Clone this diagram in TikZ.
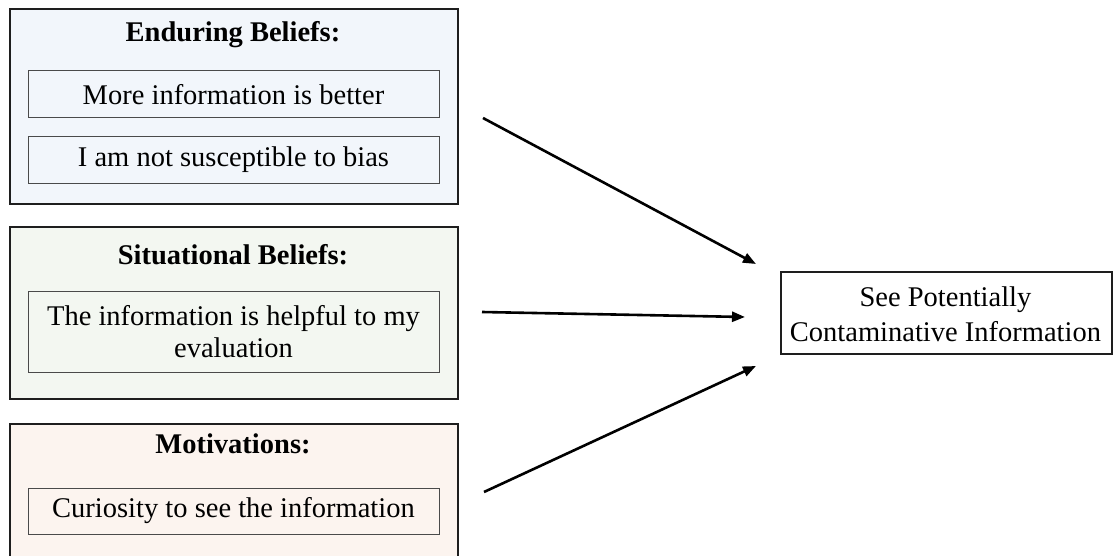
\documentclass[tikz,border=0pt]{standalone}
\usepackage{fontspec}
\setmainfont{Liberation Serif}
\usetikzlibrary{arrows.meta}
\definecolor{fillA}{HTML}{F2F6FB}
\definecolor{fillB}{HTML}{F3F7F1}
\definecolor{fillC}{HTML}{FCF4EF}
\definecolor{edgeA}{HTML}{1E1E1E}
\definecolor{edgeB}{HTML}{4A4A4A}
\tikzset{
  outerbox/.style={draw=edgeA, line width=1.8pt, inner sep=0pt, anchor=north west},
  innerbox/.style={draw=edgeB, line width=1pt, inner sep=0pt, align=center,
    font=\fontsize{28.5}{32}\selectfont},
  titletext/.style={inner sep=0pt, font=\fontsize{28.5}{32}\selectfont\bfseries},
  plaintext/.style={inner sep=0pt, align=center, font=\fontsize{28.5}{35}\selectfont},
  conn/.style={line width=2.6pt, -{Triangle[length=13pt,width=10pt]}}
}
\begin{document}
\begin{tikzpicture}[x=1pt,y=-1pt]
\useasboundingbox (0,0) rectangle (1115,556);
\clip (0,0) rectangle (1115,556);
\fill[white] (0,0) rectangle (1115,556);
% Enduring
\node[outerbox, fill=fillA, minimum width=448pt, minimum height=195pt] (endur) at (9,8) {};
\node[titletext] (endurT) at (233,35) {Enduring Beliefs:};
\node[innerbox, fill=fillA, minimum width=411pt, minimum height=47pt] (endur1) at (233.5,94.5) {More information is better};
\node[innerbox, fill=fillA, minimum width=411pt, minimum height=46pt] (endur2) at (233.5,160) {I am not susceptible to bias};
% Situational
\node[outerbox, fill=fillB, minimum width=448pt, minimum height=172pt] (situ) at (9,226) {};
\node[titletext] (situT) at (233,255) {Situational Beliefs:};
\node[innerbox, fill=fillB, minimum width=411pt, minimum height=81pt] (situ1) at (233.5,331.5) {The information is helpful to my\\evaluation};
% Motivations
\node[outerbox, fill=fillC, minimum width=448pt, minimum height=160pt] (moti) at (9,423) {};
\node[titletext] (motiT) at (233,444) {Motivations:};
\node[innerbox, fill=fillC, minimum width=411pt, minimum height=46pt] (moti1) at (233.5,511) {Curiosity to see the information};
% Target
\node[draw=edgeA, line width=1.8pt, fill=white, minimum width=331pt, minimum height=82pt, inner sep=0pt, anchor=north west] (target) at (780,271) {};
\node[plaintext] (targetT) at (945.5,314) {See Potentially\\Contaminative Information};
% Connectors
\coordinate (a1s) at (483,118);
\coordinate (a1e) at (756,264);
\coordinate (a2s) at (482,312);
\coordinate (a2e) at (745,317);
\coordinate (a3s) at (484,492);
\coordinate (a3e) at (756,366);
\draw[conn] (a1s) -- (a1e);
\draw[conn] (a2s) -- (a2e);
\draw[conn] (a3s) -- (a3e);
\end{tikzpicture}
\end{document}
